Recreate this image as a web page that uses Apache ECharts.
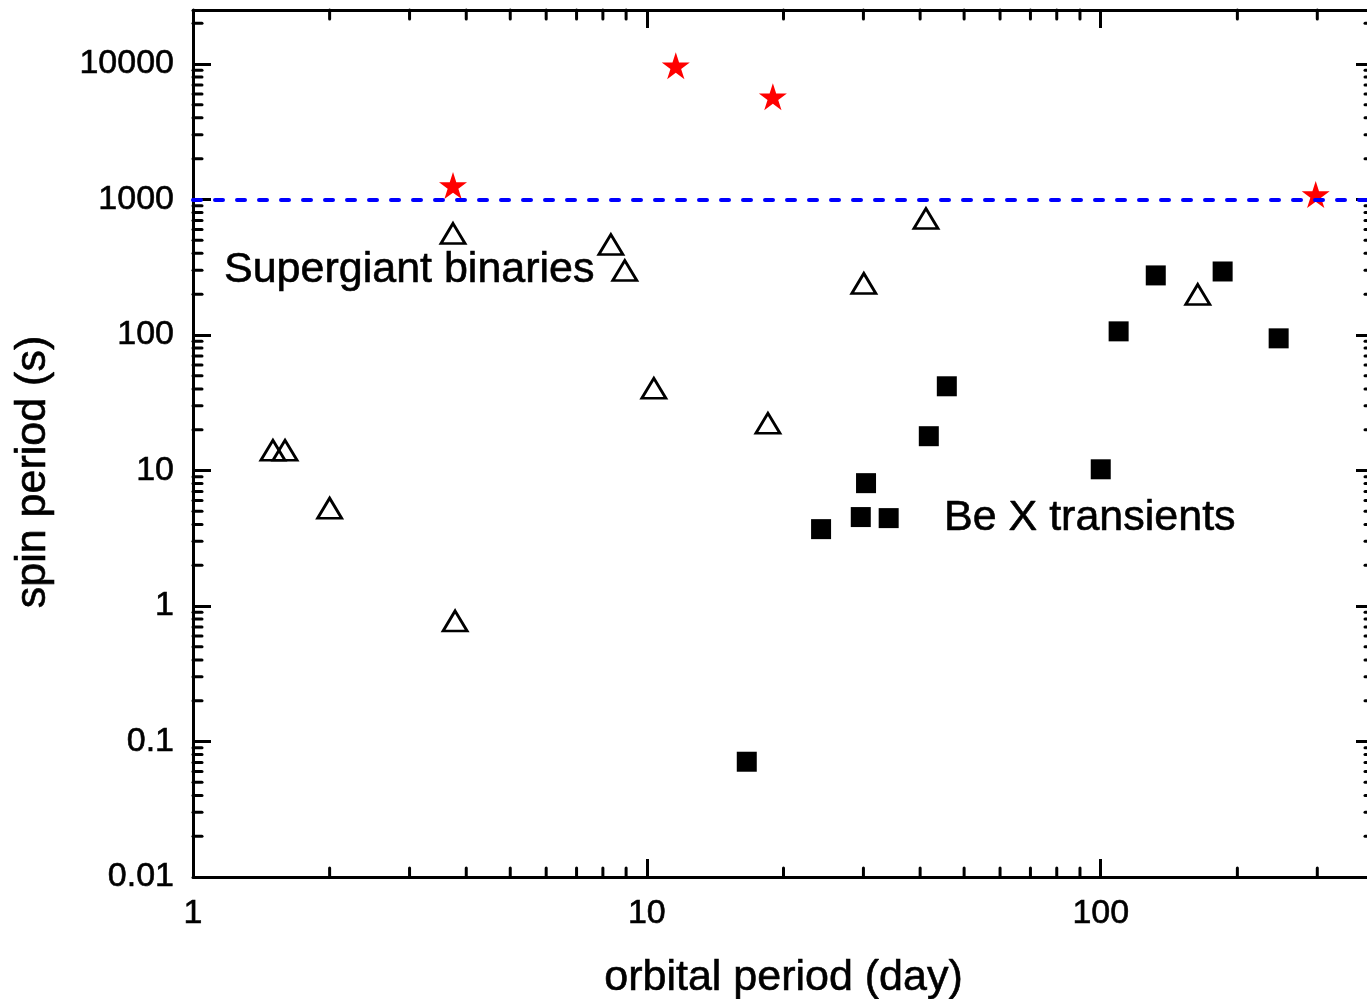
<!DOCTYPE html>
<html><head><meta charset="utf-8">
<script src="https://cdn.jsdelivr.net/npm/echarts@6/dist/echarts.min.js"></script>
<style>html,body{margin:0;padding:0;background:#fff}#c{width:1367px;height:999px}</style>
</head><body><div id="c"></div>
<script>
// ---- data ----
const supergiantX = [1.50, 1.595, 2.0, 3.78, 3.74, 8.33, 8.94, 10.36, 18.48, 30.06, 41.2, 163.6];
const supergiantY = [14.1, 14.1, 5.27, 0.775, 561, 465, 299, 40.4, 22.3, 240, 723, 199];
const beX = [16.6, 24.2, 29.6, 30.4, 34.1, 41.8, 45.8, 100, 109.5, 132.2, 185.6, 246.6];
const beY = [0.0709, 3.69, 4.53, 8.06, 4.45, 17.9, 41.8, 10.2, 106.3, 275, 294, 94.4];
const starX = [3.74, 11.58, 18.95, 297.6];
const starY = [1266, 9700, 5730, 1087];
const thresholdY = 1000;
const xTickLabels = ['1', '10', '100'];
const yTickLabels = ['0.01', '0.1', '1', '10', '100', '1000', '10000'];
const xRange = [1, 400];
const yRange = [0.01, 25000];
const xTitle = 'orbital period (day)';
const yTitle = 'spin period (s)';
const labelSG = 'Supergiant binaries';
const labelBe = 'Be X transients';

// ---- helpers ----
const font = "'Liberation Sans', Arial, Helvetica, sans-serif";
function minorTicks(range) {
  const out = [];
  for (let d = Math.floor(Math.log10(range[0])); d <= Math.ceil(Math.log10(range[1])); d++) {
    for (let k = 2; k <= 9; k++) {
      const v = +(k * Math.pow(10, d)).toPrecision(6);
      if (v > range[0] && v < range[1]) out.push(v);
    }
  }
  return out;
}
const fmt = labels => v => { const s = String(+(+v).toPrecision(6)); return labels.includes(s) ? s : ''; };
const zip = (a, b) => a.map((v, i) => [v, b[i]]);
const starPath = 'path://M50,0 L61.2,34.5 L97.6,34.5 L68.2,55.9 L79.4,90.5 L50,69.1 L20.6,90.5 L31.8,55.9 L2.4,34.5 L38.8,34.5 Z';
const TICK_FS = 34, TITLE_FS = 43;
const textBold = { textBorderColor: '#000', textBorderWidth: 0.6 };

function axis(pos, range, labels, showLabel, extra) {
  return Object.assign({
    type: 'log', logBase: 10, min: range[0], max: range[1], position: pos,
    axisLine: { show: true, onZero: false, lineStyle: { color: '#000', width: 3 } },
    axisTick: { show: true, inside: true, length: 18, lineStyle: { color: '#000', width: 3 } },
    axisLabel: { show: showLabel, color: '#000', fontFamily: font, fontSize: TICK_FS, formatter: fmt(labels) },
    splitLine: { show: false }, minorTick: { show: false }, minorSplitLine: { show: false }
  }, extra || {});
}

const chart = echarts.init(document.getElementById('c'), null, { renderer: 'canvas' });
const MINOR = 9;
chart.setOption({
  animation: false,
  backgroundColor: '#fff',
  grid: { left: 193, top: 10, width: 1181, height: 867, containLabel: false, outerBoundsMode: 'none' },
  xAxis: [
    axis('bottom', xRange, xTickLabels, true, {
      axisLabel: Object.assign({ show: true, color: '#000', fontFamily: font, fontSize: TICK_FS, margin: 20, formatter: fmt(xTickLabels) }, textBold),
      name: xTitle, nameLocation: 'middle', nameGap: 80,
      nameTextStyle: Object.assign({ color: '#000', fontFamily: font, fontSize: TITLE_FS }, textBold)
    }),
    axis('top', xRange, xTickLabels, false)
  ],
  yAxis: [
    axis('left', yRange, yTickLabels, true, {
      axisLabel: Object.assign({ show: true, color: '#000', fontFamily: font, fontSize: TICK_FS, margin: 19, formatter: fmt(yTickLabels) }, textBold)
    }),
    axis('right', yRange, yTickLabels, false)
  ],
  graphic: [
    { type: 'text', x: 33, y: 472, rotation: Math.PI / 2,
      style: { text: yTitle, fill: '#000', font: TITLE_FS + 'px ' + font, textAlign: 'center', textVerticalAlign: 'middle', stroke: '#000', lineWidth: 0.6 } },
    { type: 'text', x: 224, y: 270,
      style: { text: labelSG, fill: '#000', font: TITLE_FS + 'px ' + font, textAlign: 'left', textVerticalAlign: 'middle', stroke: '#000', lineWidth: 0.6 } },
    { type: 'text', x: 944, y: 518,
      style: { text: labelBe, fill: '#000', font: TITLE_FS + 'px ' + font, textAlign: 'left', textVerticalAlign: 'middle', stroke: '#000', lineWidth: 0.6 } }
  ],
  series: [
    { // minor ticks on x axes (bottom and top)
      type: 'custom', silent: true, z: 1,
      data: minorTicks(xRange).map(v => [v, 1]),
      renderItem: (params, api) => {
        const p = api.coord([api.value(0), api.value(1)]);
        const cs = params.coordSys;
        const b = cs.y + cs.height, t = cs.y;
        const st = { stroke: '#000', lineWidth: 3, lineCap: 'round' };
        return { type: 'group', children: [
          { type: 'line', shape: { x1: p[0], y1: b, x2: p[0], y2: b - MINOR }, style: st },
          { type: 'line', shape: { x1: p[0], y1: t, x2: p[0], y2: t + MINOR }, style: st }
        ] };
      }
    },
    { // minor ticks on y axes (left and right)
      type: 'custom', silent: true, z: 1,
      data: minorTicks(yRange).map(v => [2, v]),
      renderItem: (params, api) => {
        const p = api.coord([api.value(0), api.value(1)]);
        const cs = params.coordSys;
        const l = cs.x, r = cs.x + cs.width;
        const st = { stroke: '#000', lineWidth: 3, lineCap: 'round' };
        return { type: 'group', children: [
          { type: 'line', shape: { x1: l, y1: p[1], x2: l + MINOR, y2: p[1] }, style: st },
          { type: 'line', shape: { x1: r, y1: p[1], x2: r - MINOR, y2: p[1] }, style: st }
        ] };
      }
    },
    {
      name: 'Supergiant', type: 'scatter', z: 3,
      data: zip(supergiantX, supergiantY),
      symbol: 'triangle', symbolSize: [24, 20],
      itemStyle: { color: 'rgba(0,0,0,0)', borderColor: '#000', borderWidth: 2.8, opacity: 1 }
    },
    {
      name: 'BeX', type: 'scatter', z: 3,
      data: zip(beX, beY),
      symbol: 'rect', symbolSize: 20,
      itemStyle: { color: '#000', opacity: 1 }
    },
    {
      name: 'Stars', type: 'scatter', z: 3,
      data: zip(starX, starY),
      symbol: starPath, symbolSize: [28, 27],
      itemStyle: { color: '#ff0000', opacity: 1 }
    },
    {
      name: 'threshold', type: 'line', z: 5, data: [],
      markLine: {
        silent: true, symbol: 'none', animation: false,
        label: { show: false },
        lineStyle: { color: '#0000ff', width: 4, type: [8, 14], cap: 'round', opacity: 1 },
        data: [{ yAxis: thresholdY }]
      }
    }
  ]
});
</script>
</body></html>
